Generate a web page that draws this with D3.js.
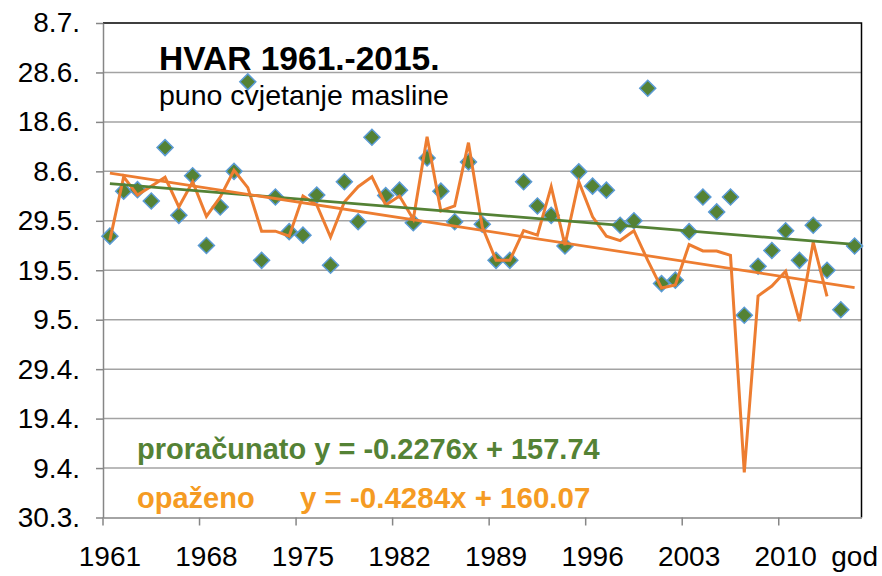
<!DOCTYPE html>
<html>
<head>
<meta charset="utf-8">
<script src="https://cdn.jsdelivr.net/npm/d3@7"></script>
<style>
  html, body { margin: 0; padding: 0; background: #fff; }
  svg { display: block; font-family: "Liberation Sans", Arial, sans-serif; }
</style>
</head>
<body>
<svg id="chart" width="882" height="576"></svg>
<script>
// ---- data ----
const years = [1961,1962,1963,1964,1965,1966,1967,1968,1969,1970,
  1971,1972,1973,1974,1975,1976,1977,1978,1979,1980,
  1981,1982,1983,1984,1985,1986,1987,1988,1989,1990,
  1991,1992,1993,1994,1995,1996,1997,1998,1999,2000,
  2001,2002,2003,2004,2005,2006,2007,2008,2009,2010,
  2011,2012,2013,2014,2015];

// proračunato (computed) – day numbers (90 = 30.3.)
const computed = [146.9,156.0,156.3,154.0,164.8,151.1,159.1,145.0,152.8,160.0,
  178.1,142.0,154.8,147.8,147.1,155.2,141.0,157.9,149.8,166.9,
  155.1,156.2,149.6,162.7,156.0,149.8,161.9,149.3,142.0,142.0,
  157.9,153.0,151.1,144.9,159.9,157.0,156.2,149.1,150.0,176.8,
  137.3,138.0,147.8,154.8,151.8,154.8,130.9,140.8,144.0,148.0,
  142.0,149.1,140.0,132.0,144.9];

// opaženo (observed)
const observed = [146.1,158.9,155.2,157.0,158.8,152.8,157.9,150.9,154.8,160.2,
  156.7,147.9,147.9,146.9,155.0,153.2,146.7,153.8,156.9,158.9,
  153.2,155.0,150.3,167.0,152.0,153.0,165.8,148.8,142.0,142.0,
  148.0,147.1,156.9,145.1,157.9,150.8,146.9,146.0,148.0,142.0,
  136.4,137.0,145.2,143.9,143.9,143.0,99.1,134.8,136.8,139.8,
  129.7,145.7,134.7,null,null];

// trend lines: [slope, intercept], x = 1..n
const trendComputed = [-0.2276, 157.74];
const trendObserved = [-0.4284, 160.07];

const yTicks = [90,100,110,120,130,140,150,160,170,180,190];
const yLabels = ["30.3.","9.4.","19.4.","29.4.","9.5.","19.5.","29.5.","8.6.","18.6.","28.6.","8.7."];
const xLabelYears = [1961,1968,1975,1982,1989,1996,2003,2010];
const xTickYears = [1961,1968,1975,1982,1989,1996,2003,2010];

const title = "HVAR 1961.-2015.";
const subtitle = "puno cvjetanje masline";
const legendComputed = "proračunato y = -0.2276x + 157.74";
const legendObservedName = "opaženo";
const legendObservedEq = "y = -0.4284x + 160.07";
const xUnit = "god";

// ---- layout ----
const L = 103, R = 861.5, T = 23, B = 517.5;
const svg = d3.select("#chart");

const x = d3.scaleBand().domain(years).range([L, R]).padding(0);
const cx = yr => x(yr) + x.bandwidth() / 2;
const y = d3.scaleLinear().domain([90, 190]).range([B, T]);

const GREEN = "#548235", ORANGE = "#ED7D31", BLUE = "#5B9BD5";

// gridlines
svg.append("g").selectAll("line").data(yTicks.filter(v => v > 90 && v < 190)).join("line")
  .attr("x1", L).attr("x2", R).attr("y1", d => y(d)).attr("y2", d => y(d))
  .attr("stroke", "#a3a3a3").attr("stroke-width", 1.5);

// top & right border
svg.append("path")
  .attr("d", `M${L},${y(190)}H${R}V${B}`)
  .attr("fill", "none").attr("stroke", "#000").attr("stroke-width", 1.5);

// y axis
const yAxis = svg.append("g").attr("transform", `translate(${L},0)`)
  .call(d3.axisLeft(y).tickValues(yTicks).tickFormat((d, i) => yLabels[i])
    .tickSize(7).tickSizeOuter(0).tickPadding(16));
yAxis.select(".domain").attr("stroke", "#868686").attr("stroke-width", 1.5);
yAxis.selectAll(".tick line").attr("stroke", "#868686").attr("stroke-width", 1.5);
yAxis.selectAll(".tick text").attr("font-size", 28).attr("fill", "#000")
  .attr("font-family", "'Liberation Sans', Arial, sans-serif");

// x axis
const xAxis = svg.append("g").attr("transform", `translate(0,${B})`)
  .call(d3.axisBottom(x).tickValues(xLabelYears).tickSize(0).tickSizeOuter(0).tickPadding(29));
xAxis.select(".domain").attr("stroke", "#868686").attr("stroke-width", 1.5);
xAxis.selectAll(".tick text").attr("font-size", 28).attr("fill", "#000")
  .attr("font-family", "'Liberation Sans', Arial, sans-serif");
// x tick marks at category boundaries
svg.append("g").selectAll("line").data(xTickYears).join("line")
  .attr("x1", d => x(d)).attr("x2", d => x(d)).attr("y1", B).attr("y2", B + 8)
  .attr("stroke", "#868686").attr("stroke-width", 1.5);
svg.append("text").attr("x", cx(years[years.length - 1])).attr("y", B + 29)
  .attr("dy", "0.71em").attr("text-anchor", "middle").attr("font-size", 28).text(xUnit);

// computed diamonds
svg.append("g").selectAll("path").data(years.map((yr, i) => [yr, computed[i]])).join("path")
  .attr("d", d3.symbol(d3.symbolSquare, 128)())
  .attr("transform", d => `translate(${cx(d[0])},${y(d[1])}) rotate(45)`)
  .attr("fill", GREEN).attr("stroke", BLUE).attr("stroke-width", 1.5);

// observed line
const line = d3.line().defined(d => d[1] != null).x(d => cx(d[0])).y(d => y(d[1]));
svg.append("path").datum(years.map((yr, i) => [yr, observed[i]]))
  .attr("d", line).attr("fill", "none").attr("stroke", ORANGE)
  .attr("stroke-width", 3).attr("stroke-linejoin", "miter");

// trend lines
function trend(coef, color) {
  const pts = [years[0], years[years.length - 1]].map(yr => {
    const k = years.indexOf(yr) + 1;
    return [yr, coef[0] * k + coef[1]];
  });
  svg.append("path").datum(pts).attr("d", d3.line().x(d => cx(d[0])).y(d => y(d[1])))
    .attr("fill", "none").attr("stroke", color).attr("stroke-width", 2.75);
}
trend(trendComputed, GREEN);
trend(trendObserved, ORANGE);

// titles
svg.append("text").attr("x", 159).attr("y", 70).attr("font-size", 33.5)
  .attr("font-weight", "bold").text(title);
svg.append("text").attr("x", 159).attr("y", 105).attr("font-size", 28.5).text(subtitle);

// legend equations
svg.append("text").attr("x", 137).attr("y", 459).attr("font-size", 29)
  .attr("font-weight", "bold").attr("fill", "#548235").text(legendComputed);
svg.append("text").attr("x", 137).attr("y", 508).attr("font-size", 29)
  .attr("font-weight", "bold").attr("fill", "#F59B23").text(legendObservedName);
svg.append("text").attr("x", 300).attr("y", 508).attr("font-size", 29.5)
  .attr("font-weight", "bold").attr("fill", "#F59B23").text(legendObservedEq);
</script>
</body>
</html>
